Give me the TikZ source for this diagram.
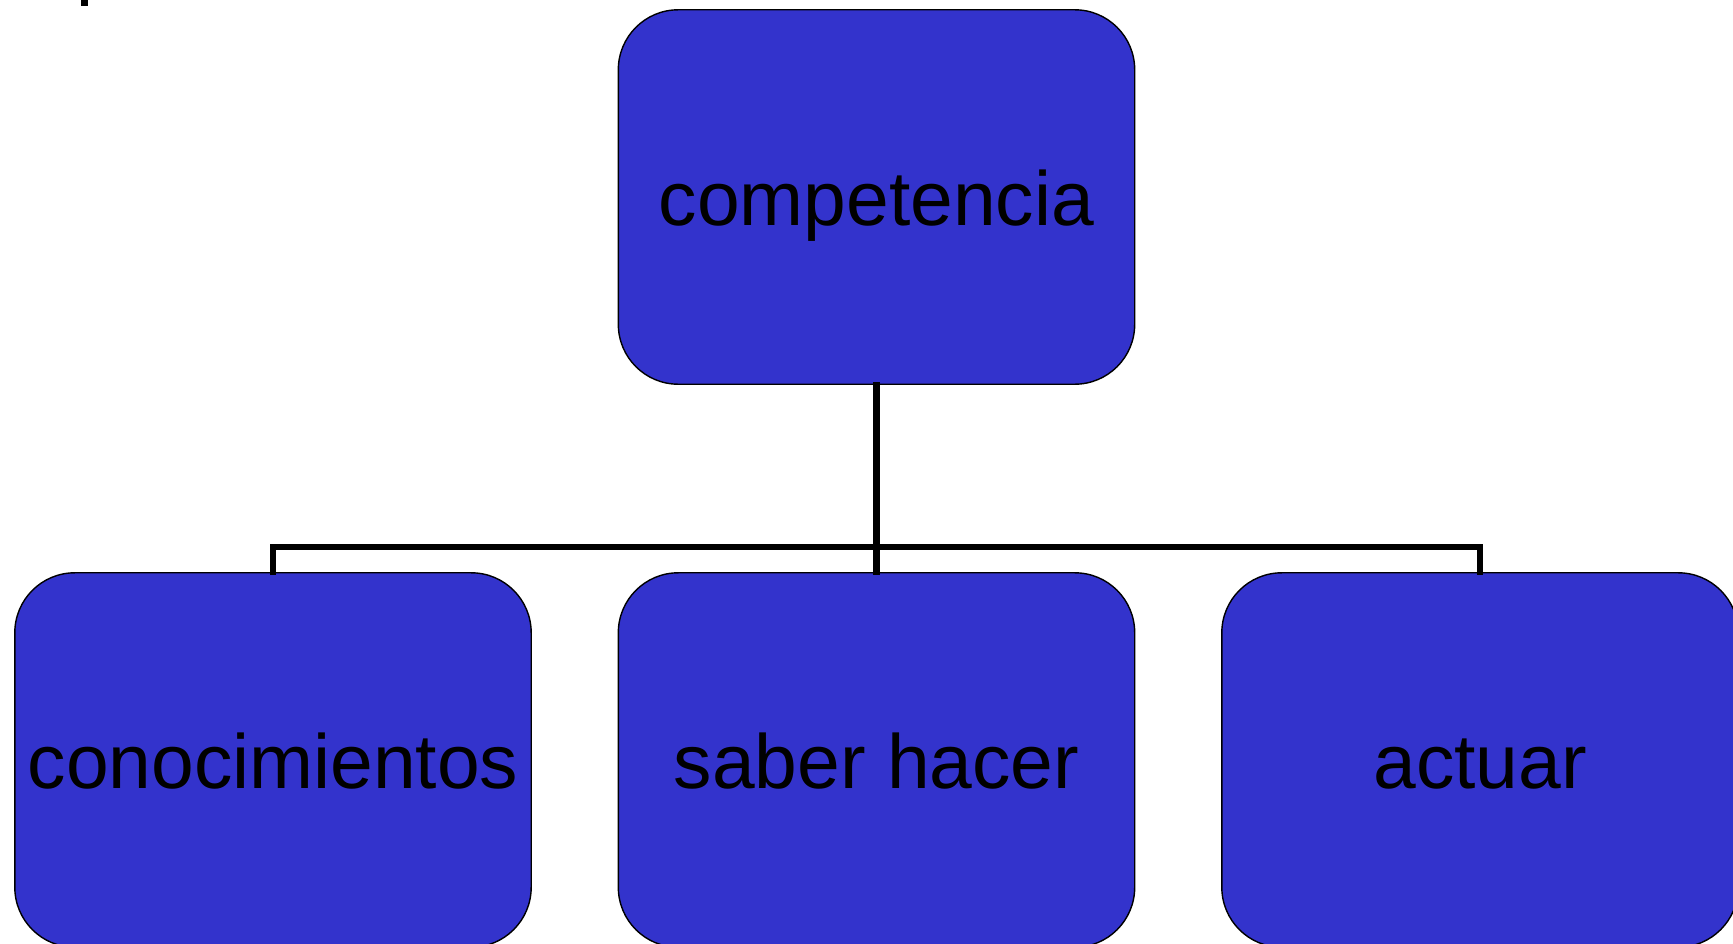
\documentclass[tikz,border=0pt]{standalone}
\usepackage{fontspec}
\setmainfont{Liberation Sans}
\usepackage{pgf,tikz}
\definecolor{boxblue}{HTML}{3333CC}

\begin{document}
\begin{tikzpicture}[line cap=round,line join=round,x=0.02cm,y=0.02cm,
  box/.style={draw=black,line width=0.8pt,fill=boxblue,rounded corners=1.2cm,
    minimum width=10.33cm,minimum height=7.49cm,inner sep=0pt,
    text height=32.4pt,text depth=0pt,
    font=\fontsize{43.7}{50}\selectfont},
  conn/.style={line width=3.6pt,line cap=rect,line join=miter}]
\useasboundingbox (0,0) rectangle (1733,-943);
\fill (81,0) rectangle (88,-6);
\node[box] (comp) at (876.5,-197) {competencia};
\node[box] (conoc) at (273,-760) {conocimientos};
\node[box] (saber) at (876.5,-760) {saber hacer};
\node[box] (actuar) at (1480,-760) {actuar};
\draw[conn] (comp.south) -- ++(0,-162) -| (conoc.north);
\draw[conn] (comp.south) -- ++(0,-162) -| (actuar.north);
\draw[conn] (comp.south) -- (saber.north);
\end{tikzpicture}
\end{document}
